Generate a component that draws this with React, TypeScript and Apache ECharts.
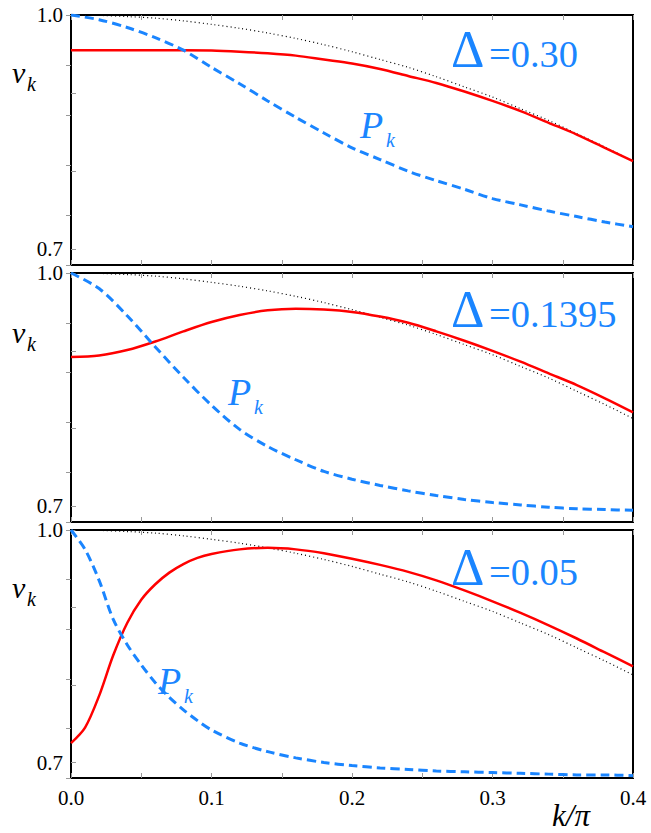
import React, { useEffect, useRef } from "react";
import * as echarts from "echarts";

// ---------- data ----------
const K = [0, 0.02, 0.04, 0.06, 0.08, 0.1, 0.12, 0.14, 0.16, 0.18, 0.2, 0.22, 0.24, 0.26, 0.28, 0.3, 0.32, 0.34, 0.36, 0.38, 0.4];
const K3 = [0, 0.01, 0.02, 0.03, 0.04, 0.05, 0.06, 0.07, 0.08, 0.09, 0.1, 0.12, 0.14, 0.16, 0.18, 0.2, 0.22, 0.24, 0.26, 0.28, 0.3, 0.32, 0.34, 0.36, 0.38, 0.4];

const DOTTED = [1.0, 0.9995, 0.998, 0.996, 0.9925, 0.988, 0.983, 0.977, 0.97, 0.962, 0.953, 0.943, 0.933, 0.921, 0.908, 0.895, 0.88, 0.865, 0.848, 0.831, 0.813];

const RED_1 = [0.955, 0.955, 0.955, 0.955, 0.955, 0.9545, 0.953, 0.951, 0.948, 0.943, 0.938, 0.931, 0.922, 0.913, 0.902, 0.89, 0.877, 0.862, 0.847, 0.83, 0.813];
const BLUE_1 = [1.0, 0.994, 0.984, 0.971, 0.955, 0.933, 0.912, 0.89, 0.869, 0.849, 0.83, 0.815, 0.8, 0.788, 0.777, 0.765, 0.757, 0.749, 0.742, 0.735, 0.729];

const RED_2 = [0.892, 0.894, 0.901, 0.912, 0.925, 0.937, 0.946, 0.952, 0.954, 0.953, 0.95, 0.944, 0.936, 0.925, 0.913, 0.9, 0.886, 0.871, 0.856, 0.839, 0.821];
const BLUE_2 = [1.0, 0.98, 0.945, 0.905, 0.866, 0.83, 0.799, 0.777, 0.76, 0.745, 0.735, 0.727, 0.72, 0.714, 0.709, 0.705, 0.702, 0.699, 0.697, 0.696, 0.695];

const RED_3 = [0.725, 0.745, 0.786, 0.838, 0.88, 0.91, 0.93, 0.945, 0.956, 0.964, 0.969, 0.975, 0.977, 0.975, 0.97, 0.963, 0.955, 0.946, 0.935, 0.922, 0.908, 0.893, 0.877, 0.86, 0.842, 0.824];
const BLUE_3 = [1.0, 0.975, 0.935, 0.885, 0.852, 0.826, 0.803, 0.784, 0.768, 0.754, 0.742, 0.725, 0.714, 0.706, 0.7, 0.696, 0.693, 0.691, 0.689, 0.688, 0.687, 0.686, 0.685, 0.684, 0.684, 0.683];

const X_TICK_LABELS = ["0.0", "0.1", "0.2", "0.3", "0.4"];
const Y_TICKS = [0.7, 0.8, 0.9, 1.0];
const Y_TICK_LABELS = [0.7, 1.0];
const DELTAS = ["0.30", "0.1395", "0.05"];

// ---------- layout ----------
const W = 651;
const H = 833;
const TOPS = [15, 273, 530];
const HEIGHTS = [250, 249, 248];
const LEFT = 71;
const RIGHT = 18;

const BLUE = "#1a85ff";
const RED = "#ff0000";
const SERIF = "'Liberation Serif', 'Times New Roman', Times, serif";

const pair = (ks: number[], vs: number[]) => ks.map((k, i) => [k, vs[i]]);

function txt(x: number, y: number, text: string, fill: string, size: number, italic: boolean, family = SERIF, align = "left") {
  return {
    type: "text",
    x,
    y,
    style: {
      text,
      fill,
      fontSize: size,
      fontFamily: family,
      fontStyle: italic ? "italic" : "normal",
      align,
      verticalAlign: "middle",
    },
  };
}

export default function App() {
  const ref = useRef<HTMLDivElement>(null);

  useEffect(() => {
    if (!ref.current) return;
    const chart = echarts.init(ref.current, undefined, { renderer: "svg" });

    const panels = [
      { k: K, red: RED_1, blue: BLUE_1 },
      { k: K, red: RED_2, blue: BLUE_2 },
      { k: K3, red: RED_3, blue: BLUE_3 },
    ];

    const grid: any[] = [];
    const xAxis: any[] = [];
    const yAxis: any[] = [];
    const series: any[] = [];
    const tick = { show: true, inside: true, length: 5, lineStyle: { color: "#999", width: 1 } };

    panels.forEach((p, i) => {
      grid.push({
        left: LEFT,
        right: RIGHT,
        top: TOPS[i],
        height: HEIGHTS[i],
        show: true,
        borderColor: "#000",
        borderWidth: 2,
        backgroundColor: "transparent",
        containLabel: false,
      });
      xAxis.push({
        type: "value",
        gridIndex: i,
        min: 0,
        max: 0.4,
        interval: 0.05,
        position: "bottom",
        axisLine: { show: false },
        splitLine: { show: false },
        axisTick: tick,
        axisLabel: {
          show: i === 2,
          margin: 9,
          color: "#000",
          fontFamily: SERIF,
          fontSize: 21,
          formatter: (v: number) => {
            const idx = Math.round(v * 20);
            return idx % 2 === 0 ? X_TICK_LABELS[idx / 2] : "";
          },
        },
      });
      xAxis.push({
        type: "value",
        gridIndex: i,
        min: 0,
        max: 0.4,
        interval: 0.05,
        position: "top",
        axisLine: { show: false },
        splitLine: { show: false },
        axisTick: tick,
        axisLabel: { show: false },
      });
      yAxis.push({
        type: "value",
        gridIndex: i,
        min: 0.68,
        max: 1.0,
        position: "left",
        axisLine: { show: false },
        splitLine: { show: false },
        axisTick: { ...tick, customValues: Y_TICKS },
        axisLabel: {
          show: true,
          customValues: Y_TICK_LABELS,
          margin: 8,
          color: "#000",
          fontFamily: SERIF,
          fontSize: 21,
          formatter: (v: number) => v.toFixed(1),
        },
      });
      yAxis.push({
        type: "value",
        gridIndex: i,
        min: 0,
        max: 5,
        interval: 1,
        position: "right",
        axisLine: { show: false },
        splitLine: { show: false },
        axisTick: tick,
        axisLabel: { show: false },
      });

      series.push({
        type: "line",
        xAxisIndex: 2 * i,
        yAxisIndex: 2 * i,
        data: pair(K, DOTTED),
        symbol: "none",
        smooth: 0.3,
        lineStyle: { color: "#000", width: 1.2, type: [1, 3] },
        z: 2,
      });
      series.push({
        type: "line",
        xAxisIndex: 2 * i,
        yAxisIndex: 2 * i,
        data: pair(p.k, p.red),
        symbol: "none",
        smooth: 0.3,
        lineStyle: { color: RED, width: 2.5 },
        z: 3,
      });
      series.push({
        type: "line",
        xAxisIndex: 2 * i,
        yAxisIndex: 2 * i,
        data: pair(p.k, p.blue),
        symbol: "none",
        smooth: 0.3,
        lineStyle: { color: BLUE, width: 3, type: [9, 5] },
        z: 4,
      });
    });

    // labels
    const vBase = [82, 342, 597];
    const pPos = [
      { x: 360, y: 138, kx: 386, ky: 147 },
      { x: 228, y: 405, kx: 254, ky: 414 },
      { x: 158, y: 694, kx: 184, ky: 703 },
    ];
    const dBase = [67, 327, 585];
    const graphic: any[] = [];
    for (let i = 0; i < 3; i++) {
      graphic.push(txt(12, vBase[i] - 10, "v", "#000", 30, true));
      graphic.push(txt(27, vBase[i] + 9 - 7, "k", "#000", 20, true));
      graphic.push(txt(pPos[i].x, pPos[i].y - 13, "P", BLUE, 38, true));
      graphic.push(txt(pPos[i].kx, pPos[i].ky - 7, "k", BLUE, 20, true));
      graphic.push(txt(451, dBase[i] - 18, "Δ", BLUE, 52, false));
      graphic.push(txt(489, dBase[i] - 13, "=" + DELTAS[i], BLUE, 38.5, false));
    }
    graphic.push(txt(571, 815, "k/π", "#000", 31, true, SERIF, "center"));

    chart.setOption({
      animation: false,
      backgroundColor: "#fff",
      grid,
      xAxis,
      yAxis,
      series,
      graphic,
    });

    return () => chart.dispose();
  }, []);

  return (
    <div
      ref={ref}
      style={{ position: "absolute", left: 0, top: 0, width: W, height: H }}
    />
  );
}
